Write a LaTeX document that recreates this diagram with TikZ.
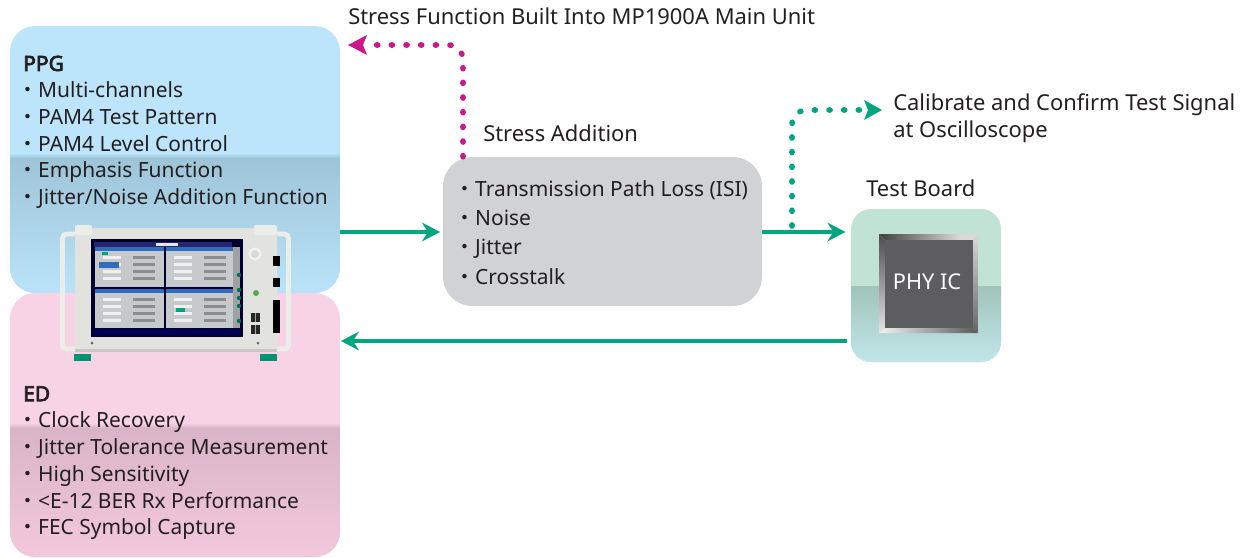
\documentclass[tikz,border=0pt]{standalone}
\usepackage{fontspec}
\setmainfont{Noto Sans}
\newfontfamily\heavy[FakeBold=3.5]{Noto Sans}
\newfontfamily\cjk{Noto Sans CJK JP}
\usetikzlibrary{arrows.meta}
\newcommand{\bul}{{\cjk ・}}
\definecolor{txt}{HTML}{231F20}
\definecolor{flow}{HTML}{00A67E}
\definecolor{mag}{HTML}{C9178C}
\definecolor{blubar}{HTML}{2F6CC0}
\definecolor{quad}{HTML}{C6CACC}
\definecolor{bodyc}{HTML}{E2E3DF}
\definecolor{handc}{HTML}{EBEDE9}
\tikzset{
 x=0.75pt,y=-0.75pt,
 lbl/.style={font=\fontsize{15.7pt}{20.05pt}\selectfont,text=txt,inner sep=0pt,align=left},
 caption/.style={font=\fontsize{16.45pt}{20.25pt}\selectfont,text=txt,inner sep=0pt,align=left},
 solidflow/.style={draw=flow,line width=2.6pt,-{Stealth[length=13.5pt,width=14pt,inset=4.5pt]}},
 dotflow/.style={line width=4.2pt,line cap=round,dash pattern=on 0.8pt off 10.2pt,rounded corners=11pt},
 box/.style={inner sep=0pt,rounded corners=#1},
}
\begin{document}
\begin{tikzpicture}
\useasboundingbox (0,0) rectangle (1245,557);
% boxes
\node[box=19pt,fill={rgb,255:red,188;green,229;blue,251},minimum width=247.5pt,minimum height=200.25pt] (ppg) at (175,159.5) {};
\begin{scope}
\clip[rounded corners=19pt] (10,26) rectangle (340,293);
\shade[top color={rgb,255:red,158;green,196;blue,216},bottom color={rgb,255:red,186;green,227;blue,249}] (10,158) rectangle (340,293);
\shade[top color={rgb,255:red,188;green,229;blue,251},bottom color={rgb,255:red,158;green,196;blue,216}] (10,153) rectangle (340,158);
\end{scope}
\node[box=19pt,fill={rgb,255:red,248;green,210;blue,229},minimum width=247.5pt,minimum height=198pt] (ed) at (175,425) {};
\begin{scope}
\clip[rounded corners=19pt] (10,293) rectangle (340,557);
\shade[top color={rgb,255:red,217;green,180;blue,198},bottom color={rgb,255:red,243;green,200;blue,221}] (10,428) rectangle (340,557);
\shade[top color={rgb,255:red,248;green,210;blue,229},bottom color={rgb,255:red,217;green,180;blue,198}] (10,423) rectangle (340,428);
\end{scope}
\node[box=22pt,fill={rgb,255:red,209;green,210;blue,212},minimum width=239.25pt,minimum height=111.75pt] (stress) at (602.5,231.5) {};
\node[box=15pt,fill={rgb,255:red,193;green,227;blue,213},minimum width=112.5pt,minimum height=114.75pt] (tb) at (926,285.5) {};
\begin{scope}
\clip[rounded corners=15pt] (851,209) rectangle (1001,362);
\shade[top color={rgb,255:red,160;green,196;blue,185},bottom color={rgb,255:red,193;green,230;blue,233}] (851,286) rectangle (1001,362);
\end{scope}
% chip
\begin{scope}
\clip (879,234) -- (978,234) -- (973,240) -- (885,240) -- cycle;
\shade[left color=black!75,right color=black!15] (879,234) rectangle (960,240);
\fill[black!15] (960,234) rectangle (978,240);
\end{scope}
\begin{scope}
\clip (879,234) -- (885,240) -- (885,328) -- (879,333) -- cycle;
\shade[top color=black!70,bottom color=black!10] (879,234) rectangle (885,333);
\end{scope}
\begin{scope}
\clip (978,234) -- (973,240) -- (973,328) -- (978,333) -- cycle;
\shade[top color=black!15,bottom color=black!60] (973,234) rectangle (978,333);
\end{scope}
\begin{scope}
\clip (879,333) -- (885,328) -- (973,328) -- (978,333) -- cycle;
\shade[left color=black!5,right color=black!65] (879,328) rectangle (978,333);
\end{scope}
\fill[fill={rgb,255:red,93;green,93;blue,95}] (885,240) rectangle (973,328);
\node[inner sep=0pt,text=white,font=\fontsize{16.3pt}{19pt}\selectfont] (phy) at (927,282) {PHY IC};
% instrument
\draw[line width=3.6pt,color=handc,rounded corners=3pt] (82,234) -- (62.5,234) -- (62.5,349) -- (82,349);
\draw[line width=3.6pt,color=handc,rounded corners=3pt] (270,234) -- (288.5,234) -- (288.5,349) -- (270,349);
\fill[flow!90!black] (74,354) rectangle (91,361);
\fill[flow!90!black] (260,354) rectangle (277,361);
\fill[bodyc,rounded corners=1.5pt] (75,228) rectangle (277,352);
\fill[handc,rounded corners=1.5pt] (75,225) rectangle (92,235);
\fill[handc,rounded corners=1.5pt] (254,225) rectangle (277,235);
\fill[black!22] (75,349) rectangle (277,352);
\fill[black!82!blue] (91,239) rectangle (243,337);
\fill[black!60!blue!70!gray] (94,242) rectangle (232,247);
\fill[white!80!gray] (156,242.5) rectangle (178,246);
\foreach \xa/\xb in {95/164,166/233}{
 \foreach \ya/\yb in {247/287,289/328}{
  \fill[quad] (\xa,\ya) rectangle (\xb,\yb);
  \fill[blubar] (\xa,\ya) rectangle (\xb,\ya+3.5);
  \foreach \k in {1,2,3,4}{
   \fill[white!88!gray] (\xa+8,\ya+2+7*\k) rectangle (\xa+26,\ya+5+7*\k);
   \fill[black!45] (\xa+38,\ya+2+7*\k) rectangle (\xa+60,\ya+5+7*\k);
  }
 }
}
\fill[blubar] (99,262) rectangle (119,268);
\fill[flow] (102,252) rectangle (108,255);
\fill[flow] (176,308) rectangle (185,312);
\fill[black!65!blue] (94,329) rectangle (240,335);
\fill[quad!80!black] (233,247) rectangle (240,328);
\fill[black!5] (255,254) circle (6.5);
\fill[white!70!gray] (255,254) circle (4);
\fill[black] (273,256) rectangle (280,266);
\fill[black] (273,278) rectangle (280,287);
\fill[black] (273,300) rectangle (280,333);
\foreach \yy in {313,325}{\fill[black!85] (251,\yy) rectangle (260,\yy+9);\fill[black!35] (255,\yy) rectangle (256,\yy+9);}
\fill[green!55!black!70] (256,293) circle (3);
\foreach \yy in {275,290,298,306,321}{\fill[flow!70!black] (239,\yy) circle (2.2);}
\fill[black!60] (92,343) circle (1.5);
\fill[black!60] (258,343) circle (1.5);
% texts
\node[lbl,anchor=north west] (ppgt) at (17,55.5) {\hspace*{4.5pt}{\heavy PPG}\\\bul Multi-channels\\\bul PAM4 Test Pattern\\\bul PAM4 Level Control\\\bul Emphasis Function\\\bul Jitter/Noise Addition Function};
\node[lbl,anchor=north west] (edt) at (17,386) {\hspace*{4.5pt}{\heavy ED}\\\bul Clock Recovery\\\bul Jitter Tolerance Measurement\\\bul High Sensitivity\\\bul <E-12 BER Rx Performance\\\bul FEC Symbol Capture};
\node[lbl,font=\fontsize{15.7pt}{22pt}\selectfont,anchor=north west] (stresst) at (454,180) {\bul Transmission Path Loss (ISI)\\\bul Noise\\\bul Jitter\\\bul Crosstalk};
\node[caption,anchor=base west] (t1) at (348,24.5) {Stress Function Built Into MP1900A Main Unit};
\node[caption,anchor=base west] (t2) at (483,141) {Stress Addition};
\node[caption,anchor=base west] (t3) at (866,196.5) {Test Board};
\node[caption,anchor=north west] (t4) at (893,93) {Calibrate and Confirm Test Signal\\at Oscilloscope};
% connectors
\coordinate (ya) at (0,232);
\coordinate (yb) at (0,341);
\coordinate (magc) at (463,45);
\coordinate (magend) at (348,45);
\coordinate (grc) at (792,110);
\coordinate (grend) at (882,110);
\coordinate (grs) at (792,226);
\draw[solidflow,shorten >=2pt] (ppg.east |- ya) -- (stress.west |- ya);
\draw[solidflow,shorten >=4pt] (stress.east |- ya) -- (tb.west |- ya);
\draw[solidflow,shorten >=0.5pt,shorten <=3pt] (tb.west |- yb) -- (ed.east |- yb);
\draw[dotflow,draw=mag] (stress.north -| magc) -- (magc) -- ([xshift=21pt]magend);
\fill[mag] (magend) -- ++(19,-10) -- ++(-4,10) -- ++(4,10) -- cycle;
\draw[dotflow,draw=flow] (grs) -- (grc) -- ([xshift=-14pt]grend);
\fill[flow] (grend) -- ++(-18,-10) -- ++(4,10) -- ++(-4,10) -- cycle;
\end{tikzpicture}
\end{document}
